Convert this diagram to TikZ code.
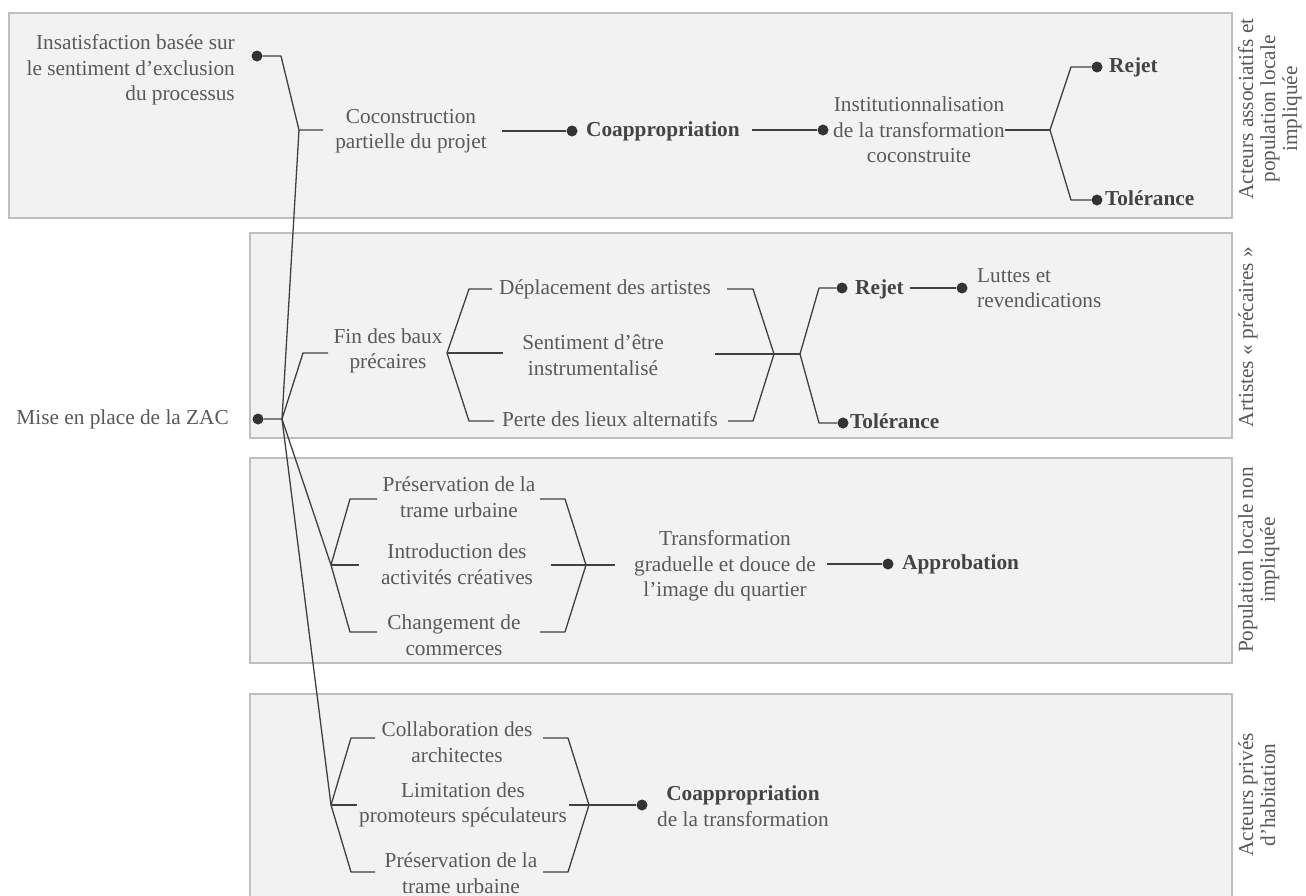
\documentclass[tikz,border=0pt]{standalone}
\usepackage{fontspec}
\setmainfont{Liberation Serif}
\definecolor{panelfill}{HTML}{F2F2F2}
\definecolor{panelline}{HTML}{BFBFBF}
\definecolor{txt}{HTML}{595959}
\definecolor{txtb}{HTML}{444444}
\definecolor{wirec}{HTML}{404040}
\definecolor{dotc}{HTML}{333333}
\begin{document}
\begin{tikzpicture}[x=1pt,y=-1pt,
  panel/.style={fill=panelfill,draw=panelline,line width=1.3pt},
  lbl/.style={inner sep=0pt,text=txt,align=center,font=\fontsize{21.3}{25.5}\selectfont},
  key/.style={inner sep=0pt,text=txtb,align=center,font=\fontsize{21.3}{25.5}\selectfont\bfseries},
  side/.style={inner sep=0pt,text=txt,align=center,rotate=90,anchor=north,font=\fontsize{21.3}{22}\selectfont},
  wire/.style={draw=wirec,line width=1.3pt,line join=round},
  pin/.style={circle,fill=dotc,inner sep=0pt,minimum size=11pt},
]
\useasboundingbox (0,0) rectangle (1306,895);

% four actor panels
\draw[panel] (9,13) rectangle (1232,218);
\draw[panel] (250,233) rectangle (1232,438);
\draw[panel] (250,458) rectangle (1232,663);
\draw[panel] (250,694) rectangle (1232,905);

% panel titles
\node[side] (s1) at (1238,109) {Acteurs associatifs et\\population locale\\impliquée};
\node[side] (s2) at (1238,337) {Artistes «~précaires~»};
\node[side] (s3) at (1238,560) {Population locale non\\impliquée};
\node[side] (s4) at (1238,795) {Acteurs privés\\d’habitation};

% ---------- root ----------
\node[lbl,anchor=east] (tRoot) at (229,419) {Mise en place de la ZAC};
\node[pin] (dR) at (258,419) {};
\coordinate (J0) at (282,419);

% ---------- panel 1 ----------
\node[lbl,anchor=east,align=right] (tIns) at (235,70) {Insatisfaction basée sur\\le sentiment d’exclusion\\du processus};
\node[pin] (dI) at (257,56) {};
\coordinate (jIns) at (281,56);
\coordinate (jCo) at (299,130);
\coordinate (coL) at (323,130);
\node[lbl] (tCo) at (411,131) {Coconstruction\\partielle du projet};
\coordinate (coR) at (502,131);
\node[pin] (dC1) at (572,131) {};
\node[key,anchor=west] (tC1) at (586,131) {Coappropriation};
\coordinate (c1R) at (752,130);
\node[pin] (dIn) at (823,130) {};
\node[lbl] (tIn) at (919,130) {Institutionnalisation\\de la transformation\\coconstruite};
\coordinate (inR) at (1005,130);
\coordinate (jI) at (1050,130);
\coordinate (jIa) at (1071,67);
\coordinate (jIb) at (1071,200);
\node[pin] (dRj1) at (1097,67) {};
\node[key,anchor=west] (tRj1) at (1109,67) {Rejet};
\node[pin] (dTl1) at (1097,200) {};
\node[key,anchor=west] (tTl1) at (1105,198) {Tolérance};

\draw[wire] (dI) -- (jIns) -- (jCo) -- (coL);
\draw[wire] (dR) -- (J0) -- (jCo);
\draw[wire] (coR) -- (dC1);
\draw[wire] (c1R) -- (dIn);
\draw[wire] (inR) -- (jI);
\draw[wire] (jI) -- (jIa) -- (dRj1);
\draw[wire] (jI) -- (jIb) -- (dTl1);

% ---------- panel 2 ----------
\coordinate (jF) at (303,353);
\coordinate (fL) at (328,353);
\node[lbl] (tFin) at (388,351) {Fin des baux\\précaires};
\coordinate (jF2) at (447,353);
\coordinate (fTa) at (469,289);
\coordinate (fTb) at (492,289);
\coordinate (fM) at (503,353);
\coordinate (fBa) at (469,421);
\coordinate (fBb) at (494,421);
\node[lbl] (tDep) at (605,289) {Déplacement des artistes};
\node[lbl] (tSen) at (593,355) {Sentiment d’être\\instrumentalisé};
\node[lbl] (tPer) at (610,419) {Perte des lieux alternatifs};
\coordinate (gTa) at (727,289);
\coordinate (gTb) at (753,289);
\coordinate (gM) at (715,354);
\coordinate (gBa) at (728,421);
\coordinate (gBb) at (753,421);
\coordinate (jR) at (774,354);
\coordinate (jR2) at (800,354);
\coordinate (jRa) at (819,288);
\coordinate (jRb) at (819,423);
\node[pin] (dRj2) at (842,288) {};
\node[key,anchor=west] (tRj2) at (855,289) {Rejet};
\coordinate (rjR) at (910,288);
\node[pin] (dLu) at (962,288) {};
\node[lbl,anchor=west,align=left] (tLu) at (977,288) {Luttes et\\revendications};
\node[pin] (dTl2) at (843,423) {};
\node[key,anchor=west] (tTl2) at (850,421) {Tolérance};

\draw[wire] (J0) -- (jF) -- (fL);
\draw[wire] (fTb) -- (fTa) -- (jF2) -- (fBa) -- (fBb);
\draw[wire] (jF2) -- (fM);
\draw[wire] (gTa) -- (gTb) -- (jR) -- (gBb) -- (gBa);
\draw[wire] (gM) -- (jR) -- (jR2);
\draw[wire] (jR2) -- (jRa) -- (dRj2);
\draw[wire] (jR2) -- (jRb) -- (dTl2);
\draw[wire] (rjR) -- (dLu);

% ---------- panel 3 ----------
\coordinate (jP) at (331,565);
\coordinate (pTa) at (350,499);
\coordinate (pTb) at (377,499);
\coordinate (pM) at (359,565);
\coordinate (pBa) at (350,632);
\coordinate (pBb) at (377,632);
\node[lbl] (tPre) at (459,497) {Préservation de la\\trame urbaine};
\node[lbl] (tInt) at (457,564) {Introduction des\\activités créatives};
\node[lbl] (tChg) at (454,635) {Changement de\\commerces};
\coordinate (qTa) at (540,499);
\coordinate (qTb) at (565,499);
\coordinate (qM) at (551,565);
\coordinate (qBa) at (540,632);
\coordinate (qBb) at (565,632);
\coordinate (jQ) at (586,565);
\coordinate (qR) at (615,565);
\node[lbl] (tTr) at (725,566) {Transformation\\graduelle et douce de\\l’image du quartier};
\coordinate (trR) at (827,564);
\node[pin] (dAp) at (888,564) {};
\node[key,anchor=west] (tAp) at (902,564) {Approbation};

\draw[wire] (J0) -- (jP);
\draw[wire] (pTb) -- (pTa) -- (jP) -- (pBa) -- (pBb);
\draw[wire] (jP) -- (pM);
\draw[wire] (qTa) -- (qTb) -- (jQ) -- (qBb) -- (qBa);
\draw[wire] (qM) -- (jQ) -- (qR);
\draw[wire] (trR) -- (dAp);

% ---------- panel 4 ----------
\coordinate (jC) at (331,805);
\coordinate (cTa) at (351,738);
\coordinate (cTb) at (375,738);
\coordinate (cM) at (357,805);
\coordinate (cBa) at (351,872);
\coordinate (cBb) at (375,872);
\node[lbl] (tCol) at (457,742) {Collaboration des\\architectes};
\node[lbl] (tLim) at (463,805) {Limitation des\\promoteurs spéculateurs};
\node[lbl] (tPr2) at (461,873) {Préservation de la\\trame urbaine};
\coordinate (eTa) at (543,738);
\coordinate (eTb) at (568,738);
\coordinate (eM) at (569,805);
\coordinate (eBa) at (543,872);
\coordinate (eBb) at (568,872);
\coordinate (jD) at (589,805);
\node[pin] (dC2) at (642,805) {};
\node[lbl,text=txt] (tC2) at (743,806) {\textbf{\color{txtb}Coappropriation}\\de la transformation};

\draw[wire] (J0) -- (jC);
\draw[wire] (cTb) -- (cTa) -- (jC) -- (cBa) -- (cBb);
\draw[wire] (jC) -- (cM);
\draw[wire] (eTa) -- (eTb) -- (jD) -- (eBb) -- (eBa);
\draw[wire] (eM) -- (jD) -- (dC2);
\end{tikzpicture}
\end{document}
